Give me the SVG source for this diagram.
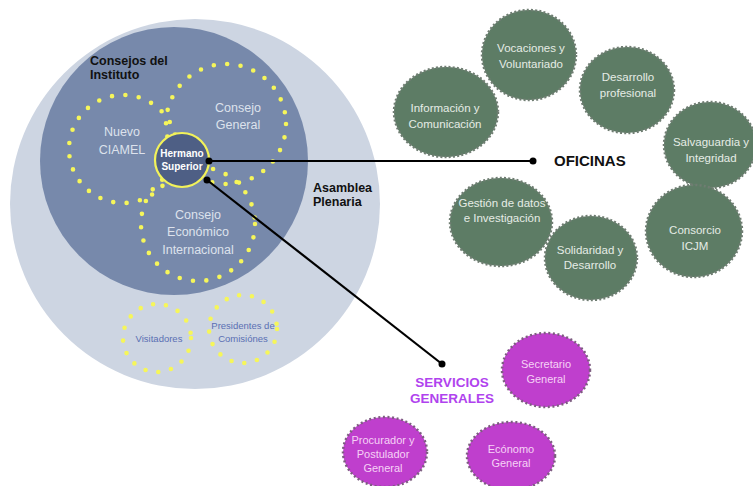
<svg xmlns="http://www.w3.org/2000/svg" width="753" height="486" viewBox="0 0 753 486">
<style>
.dots{fill:none;stroke:#f6f65a;stroke-width:4.6;stroke-linecap:round;stroke-dasharray:0 13.5}
.lbl{font-family:"Liberation Sans",Arial,sans-serif;text-anchor:middle}
.council{font-size:12.5px;fill:#dde2ec}
.bold{font-family:"Liberation Sans",Arial,sans-serif;font-weight:bold;fill:#111}
.office{fill:#5d7c65;stroke:#6f7d72;stroke-width:2.5;stroke-dasharray:2 2.2}
.otext{font-size:11.5px;fill:#e6ece6}
.serv{fill:#bf3fcd;stroke:#7d5d80;stroke-width:2.5;stroke-dasharray:2 2.6}
.stext{font-size:11px;fill:#f6d2f6}
.small{font-size:9.5px;fill:#5a6fb3}
.conn{stroke:#000;stroke-width:2.2;fill:none}
</style>
<rect width="753" height="486" fill="#ffffff"/>
<g id="asamblea-plenaria">
<circle cx="195" cy="204" r="185" fill="#cdd5e2"/>
<text class="bold" x="313" y="192" font-size="12.5">Asamblea</text>
<text class="bold" x="313" y="206" font-size="12.5">Plenaria</text>
</g>
<g id="consejos-instituto">
<circle cx="174" cy="161" r="134" fill="#7789ab"/>
<text class="bold" x="90" y="65" font-size="12.5">Consejos del</text>
<text class="bold" x="90" y="79" font-size="12.5">Instituto</text>
</g>
<g id="nuevo-ciamel">
<circle class="dots" cx="123" cy="149" r="54"/>
<text class="lbl council" x="122" y="136">Nuevo</text>
<text class="lbl council" x="122" y="154">CIAMEL</text>
</g>
<g id="consejo-general">
<circle class="dots" cx="226" cy="124" r="60"/>
<text class="lbl council" x="238" y="112">Consejo</text>
<text class="lbl council" x="238" y="129">General</text>
</g>
<g id="consejo-economico">
<circle class="dots" cx="198" cy="224" r="57"/>
<text class="lbl council" x="198" y="219">Consejo</text>
<text class="lbl council" x="198" y="236">Económico</text>
<text class="lbl council" x="198" y="254">Internacional</text>
</g>
<g id="hermano-superior">
<circle cx="182" cy="160" r="27" fill="#4e5f85" stroke="#f2f25a" stroke-width="2.2"/>
<text class="lbl" x="182" y="157" font-size="10" font-weight="bold" fill="#ffffff">Hermano</text>
<text class="lbl" x="182" y="170" font-size="10" font-weight="bold" fill="#ffffff">Superior</text>
</g>
<g id="visitadores">
<circle class="dots" cx="157" cy="338" r="34" style="stroke-dasharray:0 13"/>
<text class="lbl small" x="159" y="342">Visitadores</text>
</g>
<g id="presidentes-comisiones">
<circle class="dots" cx="243" cy="329" r="34" style="stroke-dasharray:0 13"/>
<text class="lbl small" x="243" y="329">Presidentes de</text>
<text class="lbl small" x="243" y="342">Comisiónes</text>
</g>
<g id="connectors">
<line class="conn" x1="209" y1="161" x2="533" y2="161"/>
<circle cx="209" cy="161" r="3.5"/>
<circle cx="533" cy="161" r="3.5"/>
<line class="conn" x1="207" y1="180" x2="442" y2="364"/>
<circle cx="207" cy="180" r="3.5"/>
<circle cx="442" cy="364" r="3.5"/>
</g>
<g id="oficinas-label">
<text x="554" y="166" font-family="'Liberation Sans',Arial,sans-serif" font-weight="bold" font-size="15" fill="#111">OFICINAS</text>
</g>
<g id="vocaciones">
<ellipse class="office" cx="529" cy="55" rx="47" ry="45"/>
<text class="lbl otext" x="531" y="52">Vocaciones y</text>
<text class="lbl otext" x="531" y="68">Voluntariado</text>
</g>
<g id="desarrollo-profesional">
<ellipse class="office" cx="627" cy="90" rx="47" ry="43"/>
<text class="lbl otext" x="628" y="81">Desarrollo</text>
<text class="lbl otext" x="628" y="97">profesional</text>
</g>
<g id="informacion">
<ellipse class="office" cx="446" cy="112" rx="52" ry="45"/>
<text class="lbl otext" x="445" y="112">Información y</text>
<text class="lbl otext" x="445" y="128">Comunicación</text>
</g>
<g id="salvaguardia">
<ellipse class="office" cx="710" cy="145" rx="46" ry="43"/>
<text class="lbl otext" x="711" y="146">Salvaguardia y</text>
<text class="lbl otext" x="711" y="162">Integridad</text>
</g>
<g id="gestion-datos">
<ellipse class="office" cx="501" cy="222" rx="51" ry="44"/>
<text class="lbl otext" x="502" y="207">Gestión de datos</text>
<text class="lbl otext" x="502" y="222">e Investigación</text>
</g>
<g id="consorcio">
<ellipse class="office" cx="694" cy="231" rx="48" ry="46"/>
<text class="lbl otext" x="695" y="234">Consorcio</text>
<text class="lbl otext" x="695" y="250">ICJM</text>
</g>
<g id="solidaridad">
<ellipse class="office" cx="591" cy="258" rx="46" ry="42"/>
<text class="lbl otext" x="590" y="254">Solidaridad y</text>
<text class="lbl otext" x="590" y="269">Desarrollo</text>
</g>
<g id="servicios-label">
<text class="lbl" x="452" y="387" font-size="13.5" font-weight="bold" fill="#b043ee">SERVICIOS</text>
<text class="lbl" x="452" y="403" font-size="13.5" font-weight="bold" fill="#b043ee">GENERALES</text>
</g>
<g id="secretario">
<ellipse class="serv" cx="546" cy="370" rx="44" ry="37"/>
<text class="lbl stext" x="546" y="368">Secretario</text>
<text class="lbl stext" x="546" y="383">General</text>
</g>
<g id="procurador">
<ellipse class="serv" cx="385" cy="452" rx="42" ry="35"/>
<text class="lbl stext" x="383" y="444">Procurador y</text>
<text class="lbl stext" x="383" y="458">Postulador</text>
<text class="lbl stext" x="383" y="472">General</text>
</g>
<g id="economo">
<ellipse class="serv" cx="511" cy="456" rx="44" ry="34"/>
<text class="lbl stext" x="511" y="453">Ecónomo</text>
<text class="lbl stext" x="511" y="467">General</text>
</g>
</svg>
